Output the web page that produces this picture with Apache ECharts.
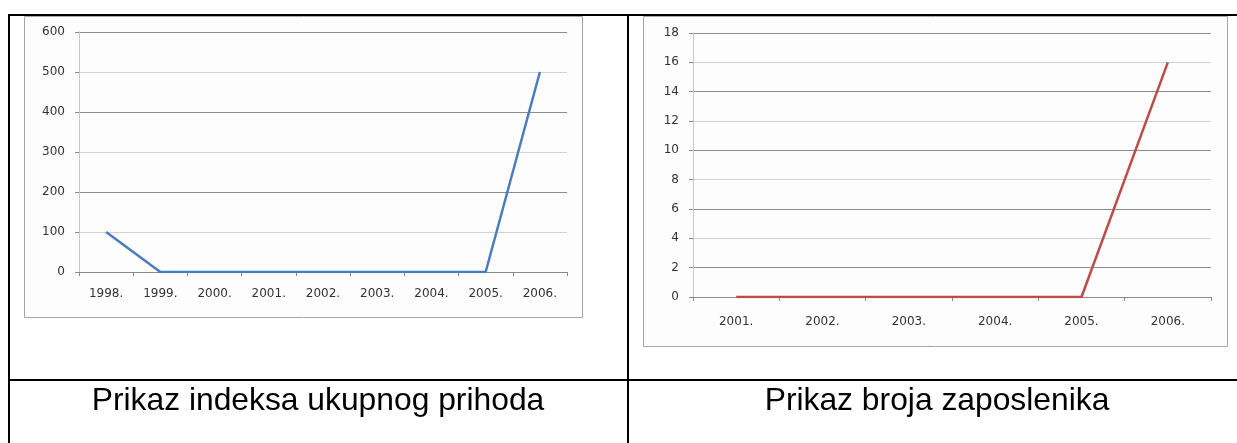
<!DOCTYPE html>
<html>
<head>
<meta charset="utf-8">
<script src="https://cdn.jsdelivr.net/npm/echarts@6/dist/echarts.min.js"></script>
<style>
  html, body { margin: 0; padding: 0; background: #fff; }
  #main { width: 1237px; height: 443px; }
</style>
</head>
<body>
<div id="main"></div>
<script>
// data
const years1 = ["1998.", "1999.", "2000.", "2001.", "2002.", "2003.", "2004.", "2005.", "2006."];
const prihod = [100, 0, 0, 0, 0, 0, 0, 0, 500];
const years2 = ["2001.", "2002.", "2003.", "2004.", "2005.", "2006."];
const zaposleni = [0, 0, 0, 0, 0, 16];
const captions = ["Prikaz indeksa ukupnog prihoda", "Prikaz broja zaposlenika"];

let myChart = echarts.init(document.getElementById("main"));

const labelFont = { fontFamily: "DejaVu Sans", fontSize: 12, color: "#333" };

function catAxis(idx, data, margin) {
  return {
    type: "category",
    gridIndex: idx,
    data: data,
    boundaryGap: true,
    axisLine: { lineStyle: { color: "#8a8a8a", width: 1 } },
    axisTick: { show: true, length: 4, inside: false, lineStyle: { color: "#8a8a8a" } },
    axisLabel: Object.assign({ margin: margin }, labelFont),
  };
}

function valAxis(idx, max, interval, colors) {
  return {
    type: "value",
    gridIndex: idx,
    min: 0,
    max: max,
    interval: interval,
    axisLine: { show: true, lineStyle: { color: "#c8c8c8" } },
    axisTick: { show: true, length: 4, lineStyle: { color: "#8a8a8a" } },
    axisLabel: Object.assign({ margin: 14 }, labelFont),
    splitLine: { show: true, lineStyle: { color: colors, width: 1 } },
  };
}

// table borders, chart frames, captions
const black = { fill: "#000" };
const graphic = [
  { type: "rect", shape: { x: 8, y: 14, width: 1229, height: 2 }, style: black, z: 10 },
  { type: "rect", shape: { x: 8, y: 14, width: 2, height: 429 }, style: black, z: 10 },
  { type: "rect", shape: { x: 627, y: 14, width: 2, height: 429 }, style: black, z: 10 },
  { type: "rect", shape: { x: 8, y: 379, width: 1229, height: 2 }, style: black, z: 10 },
  { type: "rect", shape: { x: 24.5, y: 16.5, width: 558, height: 301 }, style: { fill: "#fdfdfd", stroke: "#a6a6a6", lineWidth: 1 }, z: -10 },
  { type: "rect", shape: { x: 643.5, y: 16.5, width: 584, height: 330 }, style: { fill: "#fdfdfd", stroke: "#a6a6a6", lineWidth: 1 }, z: -10 },
  { type: "text", x: 318, y: 401, style: { text: captions[0], fontFamily: "Liberation Sans", fontSize: 31.8, fill: "#000", align: "center", verticalAlign: "middle" } },
  { type: "text", x: 937, y: 401, style: { text: captions[1], fontFamily: "Liberation Sans", fontSize: 31.8, fill: "#000", align: "center", verticalAlign: "middle" } },
];

let option = {
  animation: false,
  grid: [
    { left: 79, top: 32, width: 488, height: 240 },
    { left: 693, top: 33, width: 518, height: 264 },
  ],
  xAxis: [catAxis(0, years1, 16), catAxis(1, years2, 19)],
  yAxis: [
    valAxis(0, 600, 100, ["#8c8c8c", "#d2d2d2"]),
    valAxis(1, 18, 2, ["#d2d2d2", "#8c8c8c"]),
  ],
  series: [
    {
      type: "line",
      xAxisIndex: 0,
      yAxisIndex: 0,
      data: prihod,
      symbol: "none",
      lineStyle: { color: "#4a7ebb", width: 2.5 },
    },
    {
      type: "line",
      xAxisIndex: 1,
      yAxisIndex: 1,
      data: zaposleni,
      symbol: "none",
      lineStyle: { color: "#be4b48", width: 2.5 },
    },
  ],
  graphic: graphic,
};

myChart.setOption(option);
</script>
</body>
</html>
